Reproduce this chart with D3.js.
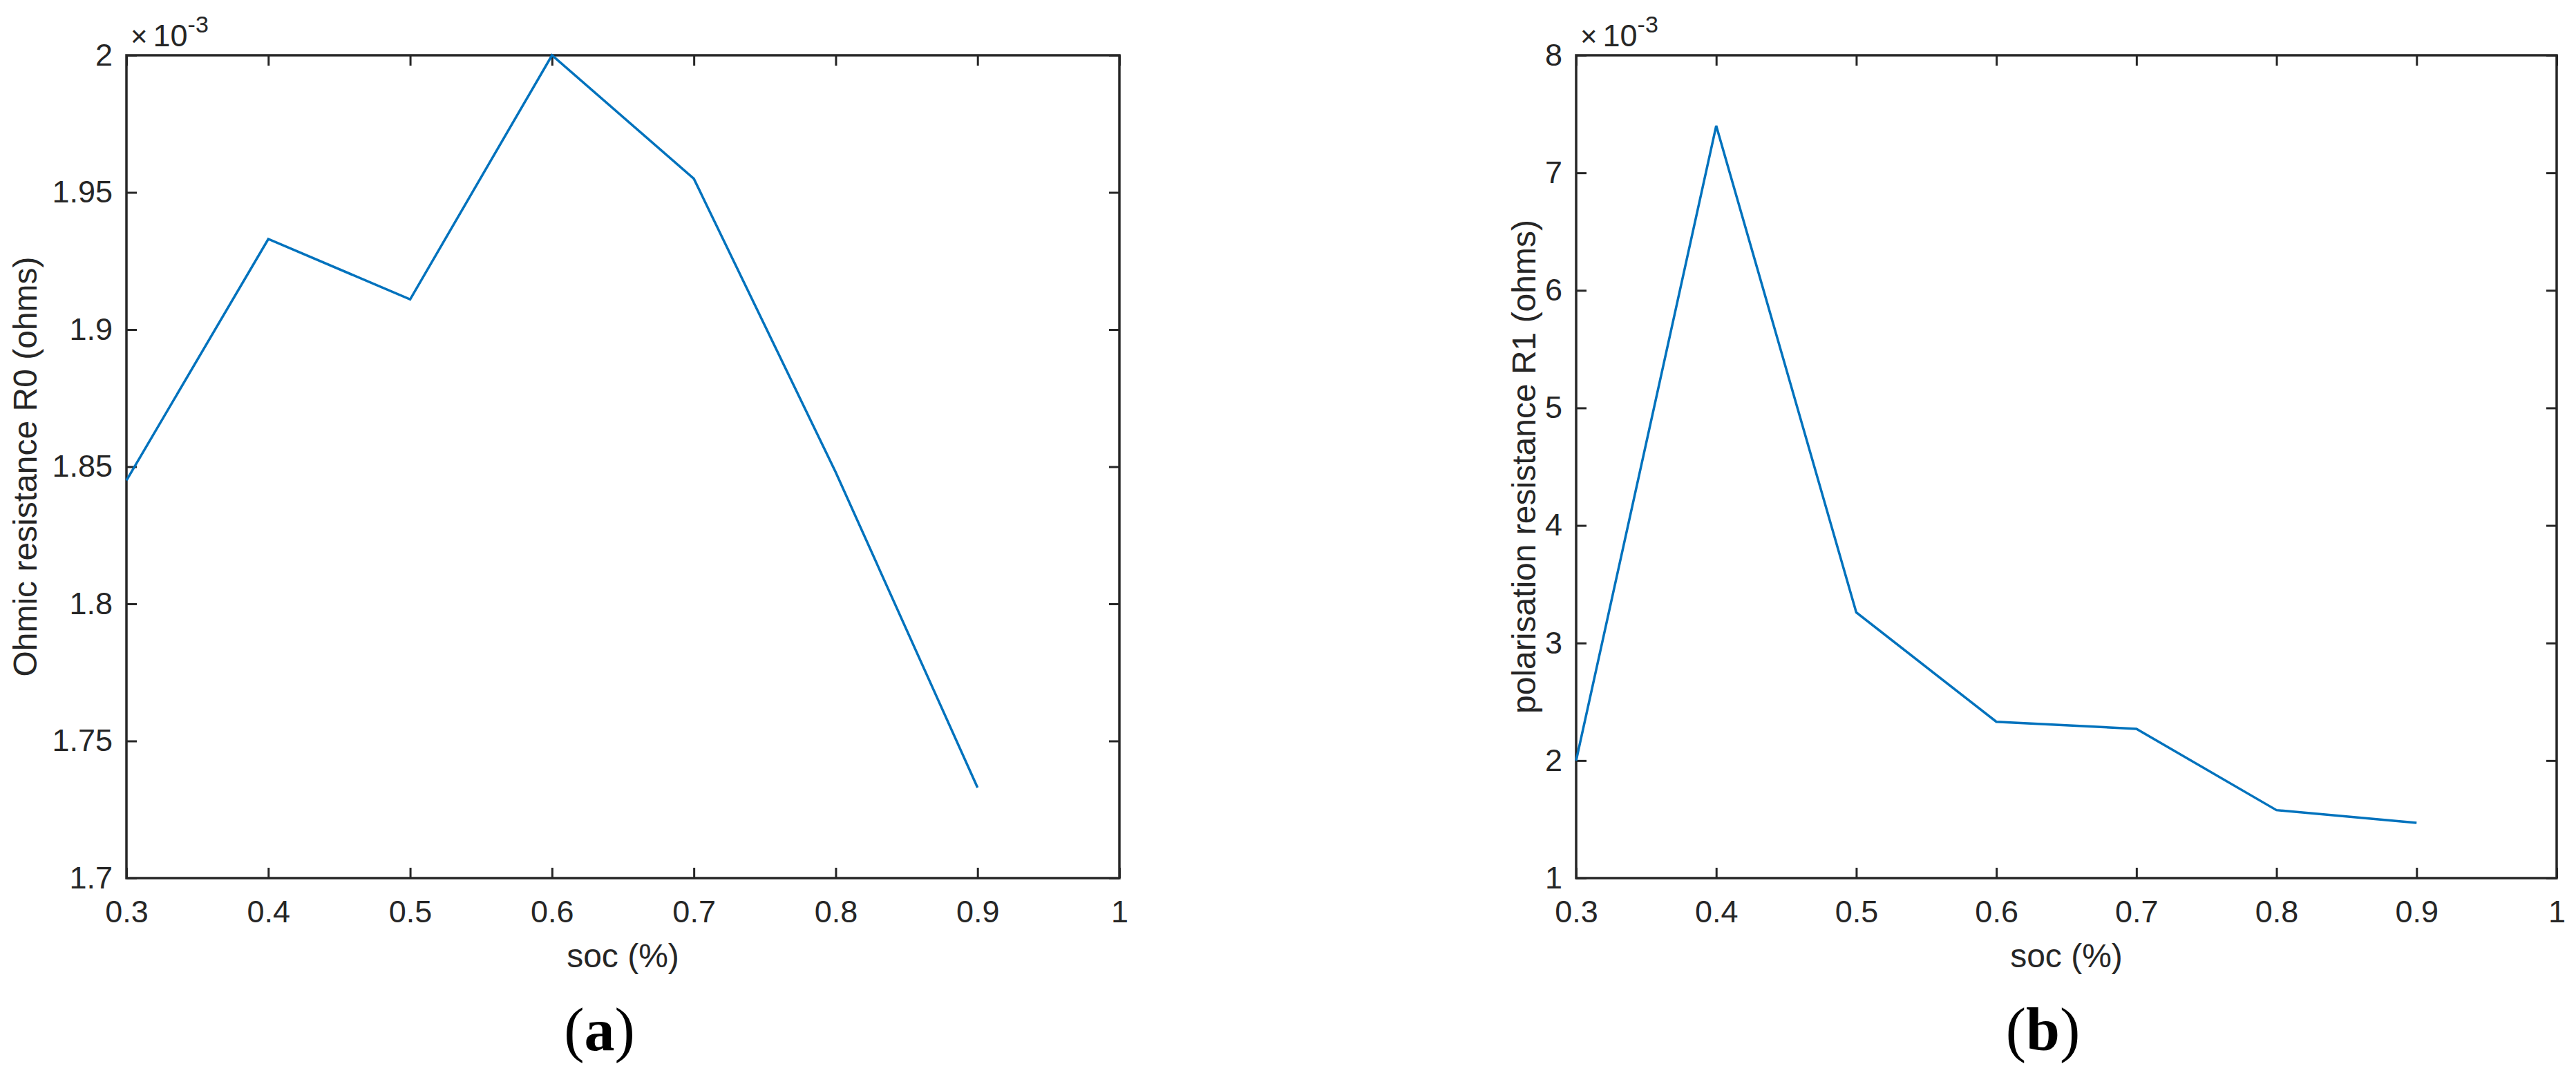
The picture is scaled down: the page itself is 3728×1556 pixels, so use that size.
<!DOCTYPE html>
<html>
<head>
<meta charset="utf-8">
<script src="https://cdn.jsdelivr.net/npm/d3@7"></script>
<style>
  html, body { margin: 0; padding: 0; background: #ffffff; }
  svg { display: block; }
</style>
</head>
<body>
<script>
// ---------------- data ----------------
const soc = [0.3, 0.4, 0.5, 0.6, 0.7, 0.8, 0.9];
// Ohmic resistance R0 (ohms)
const r0 = [0.001845, 0.001933, 0.001911, 0.002000, 0.001955, 0.001848, 0.001733];
// polarisation resistance R1 (ohms)
const r1 = [0.00200, 0.00740, 0.00326, 0.00233, 0.00227, 0.001578, 0.00147];

const xTicks = [0.3, 0.4, 0.5, 0.6, 0.7, 0.8, 0.9, 1];
const xTickLabels = ["0.3", "0.4", "0.5", "0.6", "0.7", "0.8", "0.9", "1"];
const yTicksA = [0.0017, 0.00175, 0.0018, 0.00185, 0.0019, 0.00195, 0.002];
const yTickLabelsA = ["1.7", "1.75", "1.8", "1.85", "1.9", "1.95", "2"];
const yTicksB = [0.001, 0.002, 0.003, 0.004, 0.005, 0.006, 0.007, 0.008];
const yTickLabelsB = ["1", "2", "3", "4", "5", "6", "7", "8"];
const exponentLabel = "-3";
const xLabel = "soc (%)";
const yLabelA = "Ohmic resistance R0 (ohms)";
const yLabelB = "polarisation resistance R1 (ohms)";
const panelA = "a", panelB = "b";

// ---------------- layout ----------------
const W = 3728, H = 1556;
const axisColor = "#262626";
const lineColor = "#0072BD";
const sans = "'Liberation Sans', Arial, Helvetica, sans-serif";
const serif = "'Liberation Serif', 'Times New Roman', Times, serif";

const svg = d3.select("body").append("svg")
  .attr("width", W).attr("height", H)
  .attr("viewBox", `0 0 ${W} ${H}`);

svg.append("rect").attr("width", W).attr("height", H).attr("fill", "#fff");

function panel(opt) {
  const { left, right, top, bottom, yDomain, yTicks, yTickLabels, values,
          yLabel, yLabelX, panelLetter } = opt;
  const x = d3.scaleLinear().domain([0.3, 1]).range([left, right]);
  const y = d3.scaleLinear().domain(yDomain).range([bottom, top]);
  const g = svg.append("g");
  const tick = 15;

  const xFmt = d => xTickLabels[xTicks.indexOf(d)];
  const yFmt = d => yTickLabels[yTicks.indexOf(d)];

  // bottom axis
  const gb = g.append("g").attr("transform", `translate(0,${bottom})`)
    .call(d3.axisBottom(x).tickValues(xTicks).tickFormat(xFmt)
      .tickSizeInner(-tick).tickSizeOuter(0).tickPadding(32));
  // top axis (ticks only)
  const gt = g.append("g").attr("transform", `translate(0,${top})`)
    .call(d3.axisTop(x).tickValues(xTicks).tickFormat("")
      .tickSizeInner(-tick).tickSizeOuter(0));
  // left axis
  const gl = g.append("g").attr("transform", `translate(${left},0)`)
    .call(d3.axisLeft(y).tickValues(yTicks).tickFormat(yFmt)
      .tickSizeInner(-tick).tickSizeOuter(0).tickPadding(20));
  // right axis (ticks only)
  const gr = g.append("g").attr("transform", `translate(${right},0)`)
    .call(d3.axisRight(y).tickValues(yTicks).tickFormat("")
      .tickSizeInner(-tick).tickSizeOuter(0));

  [gb, gt, gl, gr].forEach(a => {
    a.select(".domain").remove();
    a.selectAll(".tick line").attr("stroke", axisColor).attr("stroke-width", 3);
    a.selectAll(".tick text").attr("fill", axisColor)
      .style("font-family", sans).style("font-size", "45px");
  });

  // box
  g.append("rect")
    .attr("x", left).attr("y", top)
    .attr("width", right - left).attr("height", bottom - top)
    .attr("fill", "none").attr("stroke", axisColor).attr("stroke-width", 3.5);

  // data line
  const line = d3.line().x((d, i) => x(soc[i])).y(d => y(d));
  g.append("path").datum(values)
    .attr("d", line)
    .attr("fill", "none").attr("stroke", lineColor)
    .attr("stroke-width", 3.5).attr("stroke-linejoin", "miter");

  // exponent label
  const ex = g.append("text")
    .attr("x", left + 6).attr("y", top - 13)
    .attr("fill", axisColor)
    .style("font-family", sans).style("font-size", "42px");
  ex.append("tspan").text("×");
  ex.append("tspan").attr("dx", 8).style("font-size", "45px").text("10");
  ex.append("tspan").attr("dy", -20).style("font-size", "34px").text(exponentLabel);

  // x label
  g.append("text")
    .attr("x", (left + right) / 2).attr("y", 1400)
    .attr("text-anchor", "middle").attr("fill", axisColor)
    .style("font-family", sans).style("font-size", "48px")
    .text(xLabel);

  // y label
  g.append("text")
    .attr("transform", `translate(${yLabelX},${(top + bottom) / 2}) rotate(-90)`)
    .attr("text-anchor", "middle").attr("fill", axisColor)
    .style("font-family", sans).style("font-size", "48px")
    .text(yLabel);

  // panel label
  const pl = g.append("text")
    .attr("x", (left + right) / 2 - 34).attr("y", 1520)
    .attr("text-anchor", "middle").attr("fill", "#000")
    .style("font-family", serif).style("font-size", "88px");
  pl.append("tspan").text("(");
  pl.append("tspan").style("font-weight", "bold").text(panelLetter);
  pl.append("tspan").text(")");
}

panel({
  left: 183, right: 1620, top: 80, bottom: 1271,
  yDomain: [0.0017, 0.002], yTicks: yTicksA, yTickLabels: yTickLabelsA,
  values: r0, yLabel: yLabelA, yLabelX: 53, panelLetter: panelA
});

panel({
  left: 2281, right: 3700, top: 80, bottom: 1271,
  yDomain: [0.001, 0.008], yTicks: yTicksB, yTickLabels: yTickLabelsB,
  values: r1, yLabel: yLabelB, yLabelX: 2222, panelLetter: panelB
});
</script>
</body>
</html>
